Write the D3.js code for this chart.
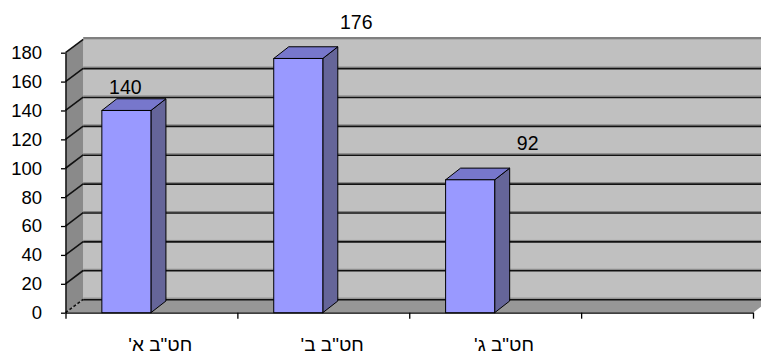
<!DOCTYPE html>
<html>
<head>
<meta charset="utf-8">
<script src="https://cdn.jsdelivr.net/npm/d3@7"></script>
<style>
  body { margin: 0; background: #fff; }
  svg text { font-family: "Liberation Sans", Arial, sans-serif; fill: #000; }
</style>
</head>
<body>
<div id="chart"></div>
<script>
// data
var categories = ['חט"ב א\'', 'חט"ב ב\'', 'חט"ב ג\''];
var values = [140, 176, 92];
var yTicks = [0, 20, 40, 60, 80, 100, 120, 140, 160, 180];
var slots = 4; // the plot leaves room for one empty category on the right

window.onload = function() {
    var width = 761, height = 356;
    var left = 65.5, right = 753;
    var wall = {dx: 17.7, dy: -13.3};   // depth of the 3d box
    var deep = {dx: 15, dy: -11.7};     // depth of a column

    var svg = d3.select("#chart")
                .append("svg")
                .attr("width", width)
                .attr("height", height);

    var y = d3.scaleLinear()
        .domain([0, 180])
        .range([312.7, 52.7]);

    var x = d3.scaleBand()
        .domain(d3.range(slots))
        .range([left, right]);

    var xEdge = d3.scaleLinear()
        .domain([0, slots])
        .range([left, right]);

    var y0 = y(0), yMax = y(180);

    // back wall
    svg.append("rect")
        .attr("x", left + wall.dx)
        .attr("y", yMax + wall.dy)
        .attr("width", right - left)
        .attr("height", y0 - yMax)
        .style("fill", "#c0c0c0");

    // side wall
    svg.append("polygon")
        .attr("points", [[left, y0], [left, yMax], [left + wall.dx, yMax + wall.dy], [left + wall.dx, y0 + wall.dy]].join(" "))
        .style("fill", "#8a8a8a");

    // floor
    svg.append("polygon")
        .attr("points", [[left, y0], [right, y0], [right + wall.dx, y0 + wall.dy], [left + wall.dx, y0 + wall.dy]].join(" "))
        .style("fill", "#979797");

    // gridlines
    var grid = svg.append("g").attr("class", "grid");
    yTicks.forEach(function(t) {
        var yy = y(t);
        var top = t === 180;
        grid.append("line")
            .attr("x1", left + wall.dx).attr("x2", right + wall.dx)
            .attr("y1", yy + wall.dy - 1.2).attr("y2", yy + wall.dy - 1.2)
            .style("stroke", "#808080")
            .style("stroke-width", top ? 2.5 : 1);
        if (!top) {
            grid.append("line")
                .attr("x1", left + wall.dx).attr("x2", right + wall.dx)
                .attr("y1", yy + wall.dy + 0.3).attr("y2", yy + wall.dy + 0.3)
                .style("stroke", "#111")
                .style("stroke-width", 1.6);
        }
        grid.append("line")
            .attr("x1", left).attr("y1", yy)
            .attr("x2", left + wall.dx).attr("y2", yy + wall.dy)
            .style("stroke", "#111")
            .style("stroke-width", 1.6)
            .style("stroke-dasharray", t === 0 ? "3,2" : null);
    });

    // y axis
    var yAxis = svg.append("g")
        .attr("transform", "translate(" + left + ",0)")
        .call(d3.axisLeft(y).tickValues(yTicks).tickSize(4.5).tickPadding(19).tickSizeOuter(0));
    yAxis.select(".domain").style("stroke", "#000").style("stroke-width", 1.3);
    yAxis.selectAll(".tick line").style("stroke", "#000").style("stroke-width", 1.3);
    yAxis.selectAll("text")
        .style("font-size", "18.5px")
        .style("font-family", "'Liberation Sans', Arial, sans-serif");

    // x axis
    var xAxis = svg.append("g")
        .attr("transform", "translate(0," + y0 + ")")
        .call(d3.axisBottom(xEdge).tickValues(d3.range(slots + 1)).tickFormat("").tickSize(6).tickSizeOuter(0));
    xAxis.select(".domain").style("stroke", "#000").style("stroke-width", 1.3);
    xAxis.selectAll(".tick line").style("stroke", "#000").style("stroke-width", 1.3);

    // columns
    var bw = x.bandwidth() * 0.2855;
    var off = x.bandwidth() * 0.2115;
    var bars = svg.append("g")
        .selectAll("g")
        .data(values)
        .enter()
        .append("g");

    bars.append("polygon")
        .attr("points", function(d, i) {
            var bx = x(i) + off + bw;
            return [[bx, y(d)], [bx + deep.dx, y(d) + deep.dy], [bx + deep.dx, y0 + deep.dy], [bx, y0]].join(" ");
        })
        .style("fill", "#656599")
        .style("stroke", "#000")
        .style("stroke-width", 1);

    bars.append("polygon")
        .attr("points", function(d, i) {
            var bx = x(i) + off;
            return [[bx, y(d)], [bx + deep.dx, y(d) + deep.dy], [bx + bw + deep.dx, y(d) + deep.dy], [bx + bw, y(d)]].join(" ");
        })
        .style("fill", "#7777cc")
        .style("stroke", "#000")
        .style("stroke-width", 1);

    bars.append("rect")
        .attr("x", function(d, i) { return x(i) + off; })
        .attr("y", function(d) { return y(d); })
        .attr("width", bw)
        .attr("height", function(d) { return y0 - y(d); })
        .style("fill", "#9999ff")
        .style("stroke", "#000")
        .style("stroke-width", 1);

    // value labels (excel put them a bit all over the place)
    var shift = [[-1, -16], [58, -29], [57.5, -30]];
    svg.append("g")
        .selectAll("text")
        .data(values)
        .enter()
        .append("text")
        .attr("x", function(d, i) { return x(i) + off + bw / 2 + shift[i][0]; })
        .attr("y", function(d, i) { return y(d) + shift[i][1]; })
        .attr("text-anchor", "middle")
        .style("font-size", "19.5px")
        .text(function(d) { return d; });

    // category labels
    svg.append("g")
        .selectAll("text")
        .data(categories)
        .enter()
        .append("text")
        .attr("x", function(d, i) { return x(i) + x.bandwidth() / 2 + wall.dx / 2; })
        .attr("y", 351)
        .attr("text-anchor", "middle")
        .attr("direction", "rtl")
        .style("font-size", "19px")
        .text(function(d) { return d; });
};
</script>
</body>
</html>
